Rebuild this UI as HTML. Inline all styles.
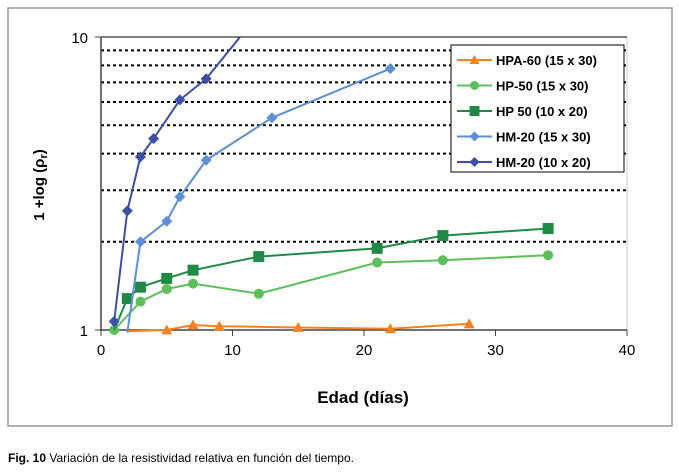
<!DOCTYPE html>
<html><head><meta charset="utf-8"><style>
body{margin:0;background:#fff;font-family:"Liberation Sans",sans-serif}
</style></head><body>
<svg width="679" height="470" xmlns="http://www.w3.org/2000/svg" font-family="Liberation Sans, sans-serif">
<rect x="8" y="8" width="664" height="418" fill="none" stroke="#9a9a9a" stroke-width="1.5"/>
<defs><clipPath id="pc"><rect x="100" y="37" width="528" height="300"/></clipPath></defs>
<g id="grid"></g>
<line x1="627" y1="37" x2="627" y2="330" stroke="#ccc"/>
<line x1="100" y1="37" x2="627" y2="37" stroke="#000" stroke-width="1"/>
<line x1="101" y1="37" x2="101" y2="331" stroke="#444" stroke-width="1.5"/>
<line x1="100" y1="330" x2="627" y2="330" stroke="#444" stroke-width="1.5"/>
<g id="ticks"></g>
<g id="series" clip-path="url(#pc)"></g>
<text transform="translate(44,185) rotate(-90)" text-anchor="middle" font-size="15" font-weight="bold">1 +log (ρ<tspan font-size="11" dy="3">r</tspan><tspan dy="-3">)</tspan></text>
<text x="363" y="403" text-anchor="middle" font-size="17" font-weight="bold">Edad (días)</text>
<rect x="451" y="45" width="173" height="127" fill="#fff" stroke="#000"/>
<g id="legend"></g>
<text x="8" y="462" font-size="12"><tspan font-weight="bold">Fig. 10</tspan>  Variación de la resistividad relativa en función del tiempo.</text>
</svg>
<script>
const names=["HPA-60 (15 x 30)","HP-50 (15 x 30)","HP 50 (10 x 20)","HM-20 (15 x 30)","HM-20 (10 x 20)"];
const colors=["#f58220","#5cbf5c","#1e8a45","#5b8fd6","#3b4fa8"];
const markers=["tri","circle","square","diamond","diamond"];
const days0=[2,5,7,9,15,22,28];
const vals0=[0.99,1.0,1.04,1.03,1.02,1.01,1.05];
const days1=[1,3,5,7,12,21,26,34];
const vals1=[1.0,1.25,1.38,1.44,1.33,1.7,1.73,1.8];
const days2=[1,2,3,5,7,12,21,26,34];
const vals2=[1.0,1.28,1.4,1.5,1.6,1.78,1.9,2.1,2.22];
const days3=[2,3,5,6,8,13,22];
const vals3=[0.98,2.0,2.35,2.85,3.8,5.3,7.8];
const days4=[1,2,3,4,6,8,12];
const vals4=[1.07,2.55,3.9,4.5,6.1,7.2,12];
const hideFirst=[true,false,true,true,false];
const xTicks=[0,10,20,30,40];
const yTicks=[1,10];
const gridVals=[2,3,4,5,6,7,8,9];
const X=d=>101+d*13.15, Y=v=>330-293*Math.log10(v);
const NS="http://www.w3.org/2000/svg";
function mk(t,a,p){const e=document.createElementNS(NS,t);for(const k in a)e.setAttribute(k,a[k]);p.appendChild(e);return e;}
const grid=document.getElementById('grid');
gridVals.forEach(v=>{const l=mk('line',{x1:101,x2:627,y1:Y(v),y2:Y(v),stroke:'#000','stroke-width':2,'stroke-dasharray':'3,3'},grid);

});
const tk=document.getElementById('ticks');
xTicks.forEach(t=>{const l=mk('line',{x1:X(t),x2:X(t),y1:330,y2:336,stroke:'#444'},tk);


const s=mk('text',{x:X(t),y:355,'text-anchor':'middle','font-size':15},tk);s.textContent=t;

});
yTicks.forEach(t=>{const l=mk('line',{x1:95,x2:101,y1:Y(t),y2:Y(t),stroke:'#444'},tk);


const s=mk('text',{x:88,y:Y(t)+6,'text-anchor':'end','font-size':15},tk);s.textContent=t;

});
function marker(type,x,y,c,p,s){s=s||5.5;let e;
if(type=='tri')e=mk('polygon',{points:`${x},${y-s} ${x-s},${y+s*0.8} ${x+s},${y+s*0.8}`,fill:c},p);
else if(type=='circle')e=mk('circle',{cx:x,cy:y,r:s-0.5,fill:c},p);
else if(type=='square')e=mk('rect',{x:x-s,y:y-s,width:2*s,height:2*s,fill:c},p);
else e=mk('polygon',{points:`${x},${y-s} ${x+s},${y} ${x},${y+s} ${x-s},${y}`,fill:c},p);
return e;}
const sg=document.getElementById('series');
const D=[[days0,vals0],[days1,vals1],[days2,vals2],[days3,vals3],[days4,vals4]];
D.forEach(([d,v],i)=>{const g=mk('g',{},sg);


mk('polyline',{points:d.map((x,j)=>X(x)+','+Y(v[j])).join(' '),fill:'none',stroke:colors[i],'stroke-width':2},g);
d.forEach((x,j)=>{if(j==0&&hideFirst[i])return;const m=marker(markers[i],X(x),Y(v[j]),colors[i],g);

});});
const lg=document.getElementById('legend');
names.forEach((n,i)=>{const y=60+i*25.5;const g=mk('g',{},lg);


mk('line',{x1:457,x2:492,y1:y,y2:y,stroke:colors[i],'stroke-width':2},g);
marker(markers[i],474.5,y,colors[i],g,5);
const t=mk('text',{x:496,y:y+5,'font-size':13,'font-weight':'bold'},g);t.textContent=n;});
</script>
</body></html>
